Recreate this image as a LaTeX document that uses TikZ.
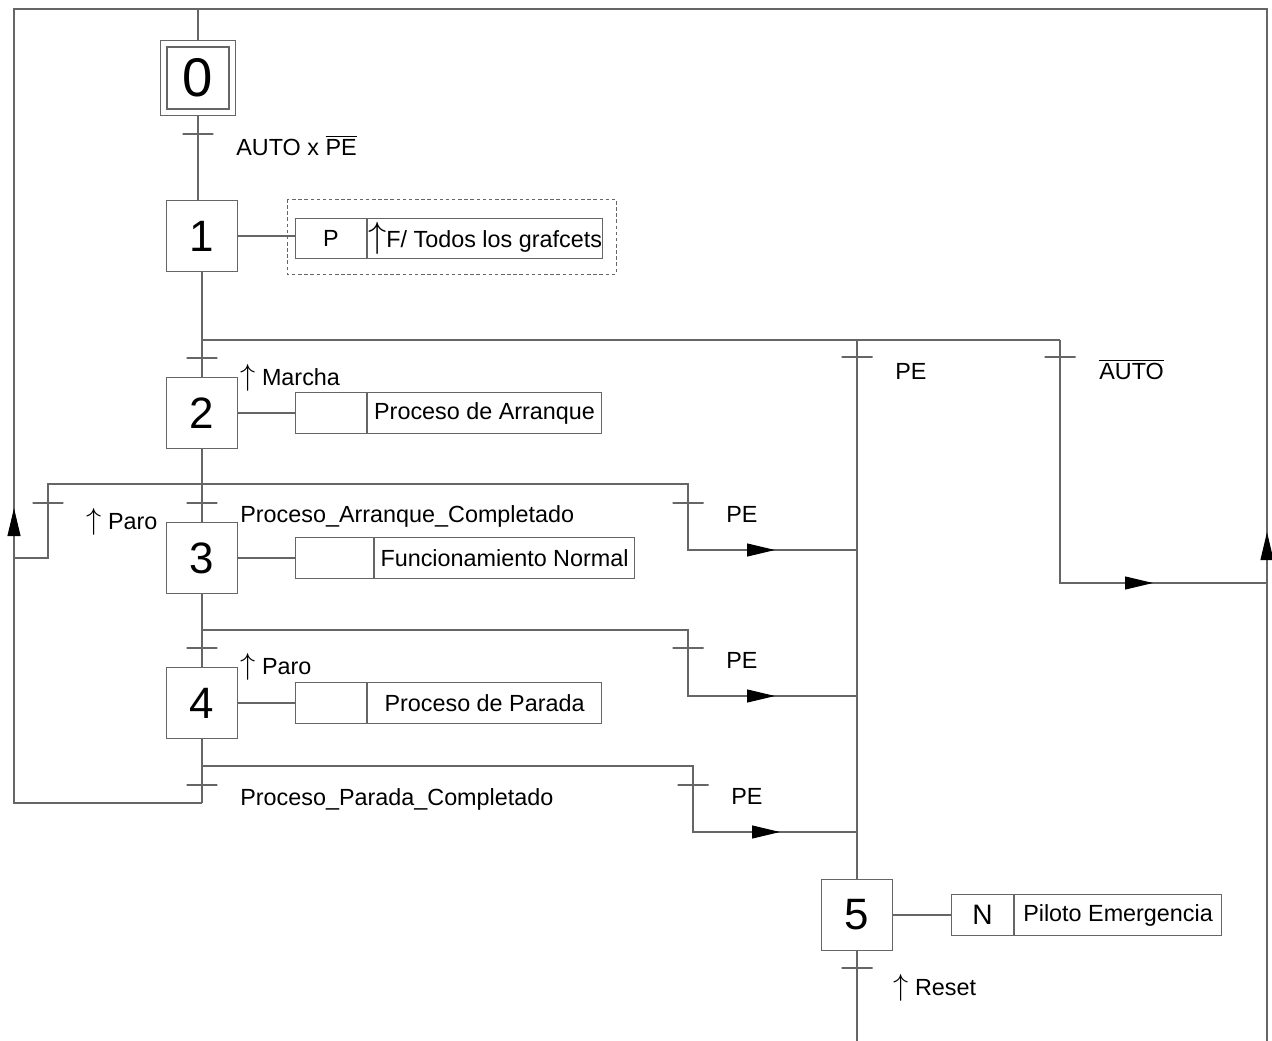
\documentclass[tikz,border=0pt]{standalone}
\usepackage{fontspec}
\setmainfont{Liberation Sans}
\usetikzlibrary{positioning,arrows.meta,decorations.markings}

\newcommand{\negado}[1]{$\overline{\mbox{#1}}$}
\newcommand{\flanco}[1][17]{{\fontsize{#1}{#1}\selectfont$\uparrow$}}

\tikzset{
  linea/.style={draw=black!60, line width=0.6pt},
  etapa/.style={draw=black!60, line width=0.6pt, minimum size=1.42cm, inner sep=0pt, font=\fontsize{25}{30}\selectfont},
  accion/.style={draw=black!60, line width=0.6pt, minimum height=0.82cm, inner sep=0pt, font=\fontsize{13.3}{16}\selectfont},
  recept/.style={draw=black!60, line width=0.6pt, minimum width=0.62cm, minimum height=0pt, inner sep=0pt},
  etiq/.style={anchor=base west, inner sep=0pt, font=\fontsize{13.3}{16}\selectfont},
  flecha/.style={postaction={decorate}, decoration={markings, mark=at position #1 with {\arrow{Triangle[length=5.6mm,width=2.6mm,color=black]}}}}
}

\begin{document}
\begin{tikzpicture}[x=0.02cm, y=-0.02cm]
  \useasboundingbox (0,0) rectangle (1272,1041);

  % etapas
  \node[etapa, minimum size=1.5cm] (e0) at (198,78) {};
  \node[etapa, minimum size=1.24cm, font=\fontsize{31}{36}\selectfont] (e0i) at (e0) {0};
  \node[etapa] (e1) at (202,236) {1};
  \node[etapa] (e2) at (202,413) {2};
  \node[etapa] (e3) at (202,558) {3};
  \node[etapa] (e4) at (202,703) {4};
  \node[etapa] (e5) at (857,915) {5};

  % acciones
  \node[accion, minimum width=1.42cm, minimum height=0.8cm, right=1.14cm of e1, yshift=-1.5pt] (a1p) {P};
  \node[accion, minimum width=4.7cm, minimum height=0.8cm, right=0pt of a1p] (a1t) {\flanco[21]F/ Todos los grafcets};
  \draw[black!60, dashed, dash pattern=on 2pt off 1.5pt, line width=0.5pt] (287,199) rectangle (616,274);
  \node[accion, minimum width=1.42cm, right=1.14cm of e2] (a2p) {};
  \node[accion, minimum width=4.68cm, right=0pt of a2p] (a2t) {Proceso de Arranque};
  \node[accion, minimum width=1.56cm, right=1.14cm of e3] (a3p) {};
  \node[accion, minimum width=5.2cm, right=0pt of a3p] (a3t) {Funcionamiento Normal};
  \node[accion, minimum width=1.42cm, right=1.14cm of e4] (a4p) {};
  \node[accion, minimum width=4.68cm, right=0pt of a4p] (a4t) {Proceso de Parada};
  \node[accion, minimum width=1.24cm, right=1.16cm of e5, font=\fontsize{16}{19}\selectfont] (a5p) {N};
  \node[accion, minimum width=4.14cm, right=0pt of a5p] (a5t) {Piloto Emergencia};
  \draw[linea] (e1) -- (e1 -| a1p.west);
  \draw[linea] (e2) -- (a2p);
  \draw[linea] (e3) -- (a3p);
  \draw[linea] (e4) -- (a4p);
  \draw[linea] (e5) -- (a5p);

  % lazos de vuelta a la etapa 0
  \coordinate (arr0) at (198,9);
  \coordinate (arrizq) at (14,9);
  \coordinate (abizq) at (14,803);
  \coordinate (ab4) at (202,803);
  \coordinate (arrder) at (1267,9);
  \coordinate (abder) at (1267,1041);
  \draw[linea] (e0) -- (arr0);
  \draw[linea, flecha=9.66cm] (ab4) -- (abizq) -- (arrizq) -- (arr0);
  \draw[linea, flecha=10.18cm] (abder) -- (arrder) -- (arr0);

  % etapa 0 -> 1
  \draw[linea] (e0) -- (e0 |- e1.north);

  % divergencia tras la etapa 1
  \coordinate (d1) at (202,340);
  \coordinate (d1pe) at (857,340);
  \coordinate (d1auto) at (1060,340);
  \coordinate (c1auto) at (1060,583);
  \coordinate (u1auto) at (1267,583);
  \draw[linea] (e1) -- (e2);
  \draw[linea] (d1) -- (d1auto);
  \draw[linea, flecha=-2.28cm] (d1auto) -- (c1auto) -- (u1auto);
  \draw[linea] (d1pe) -- (e5);

  % divergencia tras la etapa 2
  \coordinate (d2izq) at (48,484);
  \coordinate (d2der) at (688,484);
  \coordinate (c2izq) at (48,558);
  \coordinate (u2izq) at (14,558);
  \coordinate (c2der) at (688,550);
  \coordinate (u2der) at (857,550);
  \draw[linea] (e2) -- (e3);
  \draw[linea, flecha=-1.64cm] (u2izq) -- (c2izq) -- (d2izq) -- (d2der) -- (c2der) -- (u2der);

  % divergencia tras la etapa 3
  \coordinate (d3) at (202,630);
  \coordinate (d3der) at (688,630);
  \coordinate (c3der) at (688,696);
  \coordinate (u3der) at (857,696);
  \draw[linea] (e3) -- (e4);
  \draw[linea, flecha=-1.64cm] (d3) -- (d3der) -- (c3der) -- (u3der);

  % divergencia tras la etapa 4
  \coordinate (d4) at (202,766);
  \coordinate (d4der) at (693,766);
  \coordinate (c4der) at (693,832);
  \coordinate (u4der) at (857,832);
  \draw[linea] (e4) -- (ab4);
  \draw[linea, flecha=-1.54cm] (d4) -- (d4der) -- (c4der) -- (u4der);

  % salida de la etapa 5
  \coordinate (fin5) at (857,1041);
  \draw[linea] (e5) -- (fin5);

  % receptividades
  \node[recept] (r1) at (198,134) {};
  \node[recept] (r2) at (202,358) {};
  \node[recept] (rpe1) at (857,357) {};
  \node[recept] (rauto) at (1060,357) {};
  \node[recept] (r3) at (202,503) {};
  \node[recept] (rparo) at (48,503) {};
  \node[recept] (rpe2) at (688,503) {};
  \node[recept] (r4) at (202,648) {};
  \node[recept] (rpe3) at (688,648) {};
  \node[recept] (r0) at (202,785) {};
  \node[recept] (rpe4) at (693,785) {};
  \node[recept] (r5) at (857,968) {};

  \node[etiq] (l1) at (236,155) {AUTO x \negado{PE}};
  \node[etiq] (l2) at (240,385) {\flanco\ Marcha};
  \node[etiq] (lpe1) at (895,379) {PE};
  \node[etiq] (lauto) at (1099,379) {\negado{AUTO}};
  \node[etiq] (l3) at (240,522) {Proceso\_Arranque\_Completado};
  \node[etiq] (lparo) at (86,529) {\flanco\ Paro};
  \node[etiq] (lpe2) at (726,522) {PE};
  \node[etiq] (l4) at (240,674) {\flanco\ Paro};
  \node[etiq] (lpe3) at (726,668) {PE};
  \node[etiq] (l0) at (240,805) {Proceso\_Parada\_Completado};
  \node[etiq] (lpe4) at (731,804) {PE};
  \node[etiq] (l5) at (893,995) {\flanco\ Reset};
\end{tikzpicture}
\end{document}
